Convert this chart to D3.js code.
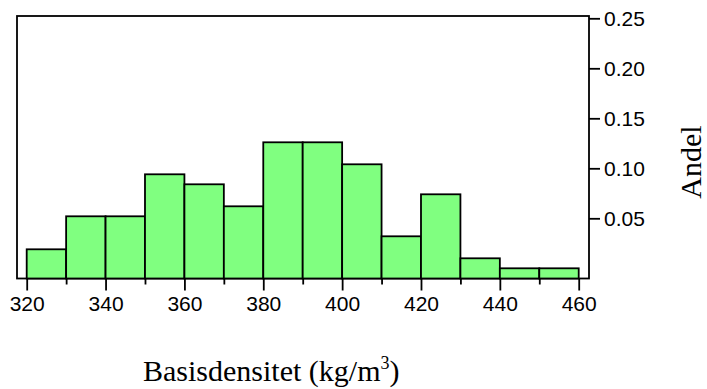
<!DOCTYPE html>
<html>
<head>
<meta charset="utf-8">
<script src="https://cdn.jsdelivr.net/npm/d3@7"></script>
<style>
  html, body { margin: 0; padding: 0; background: #fff; }
  svg { display: block; }
</style>
</head>
<body>
<svg id="chart" width="707" height="389"></svg>
<script>
// Histogram bins (kg/m3): lower edge of each 10-unit class
const binStarts = [320, 330, 340, 350, 360, 370, 380, 390, 400, 410, 420, 430, 440, 450];
const binWidth = 10;
// Share of observations in each class
const shares = [0.019, 0.052, 0.052, 0.094, 0.084, 0.062, 0.126, 0.126, 0.104, 0.032, 0.074, 0.010, 0.000, 0.000];
// Axis ticks
const xMajorTicks = [320, 340, 360, 380, 400, 420, 440, 460];
const xMinorTicks = [330, 350, 370, 390, 410, 430, 450];
const yTicks = [0.05, 0.10, 0.15, 0.20, 0.25];

const svg = d3.select("#chart");
const plot = { left: 17, right: 589, top: 16, bottom: 278.5 };

const x = d3.scaleLinear().domain([317.54, 462.61]).range([plot.left, plot.right]);
const y = d3.scaleLinear().domain([-0.0102, 0.2523]).range([plot.bottom, plot.top]);

// Plot frame
svg.append("rect")
  .attr("x", plot.left).attr("y", plot.top)
  .attr("width", plot.right - plot.left)
  .attr("height", plot.bottom - plot.top)
  .attr("fill", "none").attr("stroke", "#000").attr("stroke-width", 1.8);

// Bars rise from the bottom edge of the plot
svg.append("g").selectAll("rect")
  .data(binStarts.map((b, i) => ({ b, v: shares[i] })))
  .join("rect")
  .attr("x", d => x(d.b))
  .attr("width", d => x(d.b + binWidth) - x(d.b))
  .attr("y", d => y(d.v))
  .attr("height", d => plot.bottom - y(d.v))
  .attr("fill", "#80ff80")
  .attr("stroke", "#000")
  .attr("stroke-width", 1.8);

// Bottom axis: labelled major ticks, short minor ticks
const xAxis = svg.append("g")
  .attr("transform", `translate(0,${plot.bottom})`)
  .call(d3.axisBottom(x).tickValues(xMajorTicks).tickSize(12).tickPadding(6).tickFormat(d3.format("d")));
xAxis.select(".domain").remove();
xAxis.selectAll(".tick line").attr("stroke", "#000").attr("stroke-width", 1.8);
xAxis.selectAll(".tick text")
  .attr("font-family", "'Liberation Sans', Arial, sans-serif")
  .attr("font-size", 21).attr("fill", "#000");

const xMinor = svg.append("g")
  .attr("transform", `translate(0,${plot.bottom})`)
  .call(d3.axisBottom(x).tickValues(xMinorTicks).tickSize(6).tickFormat(""));
xMinor.select(".domain").remove();
xMinor.selectAll(".tick line").attr("stroke", "#000").attr("stroke-width", 1.8);

// Right axis
const yAxis = svg.append("g")
  .attr("transform", `translate(${plot.right},0)`)
  .call(d3.axisRight(y).tickValues(yTicks).tickSize(11).tickPadding(4).tickFormat(d3.format(".2f")));
yAxis.select(".domain").remove();
yAxis.selectAll(".tick line").attr("stroke", "#000").attr("stroke-width", 1.8);
yAxis.selectAll(".tick text")
  .attr("font-family", "'Liberation Sans', Arial, sans-serif")
  .attr("font-size", 21).attr("fill", "#000");

// Axis titles
const xTitle = svg.append("text")
  .attr("x", 143).attr("y", 381)
  .attr("font-family", "'Liberation Serif', 'Times New Roman', serif")
  .attr("font-size", 30).attr("fill", "#000");
xTitle.append("tspan").text("Basisdensitet (kg/m");
xTitle.append("tspan").attr("dy", -12).attr("font-size", 18).text("3");
xTitle.append("tspan").attr("dy", 12).text(")");

svg.append("text")
  .attr("transform", "translate(701,162) rotate(-90)")
  .attr("text-anchor", "middle")
  .attr("font-family", "'Liberation Serif', 'Times New Roman', serif")
  .attr("font-size", 30).attr("fill", "#000")
  .text("Andel");
</script>
</body>
</html>
